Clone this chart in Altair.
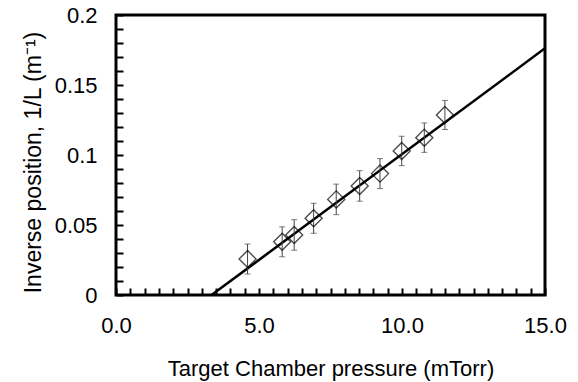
import altair as alt
import pandas as pd

# Data
pressure = [4.6, 5.81, 6.23, 6.91, 7.70, 8.52, 9.23, 9.99, 10.78, 11.50]
inv_pos = [0.0257, 0.0380, 0.0429, 0.0548, 0.0683, 0.0779, 0.0867, 0.1029, 0.1124, 0.1286]
err = [0.0107, 0.0107, 0.0109, 0.0107, 0.0109, 0.0109, 0.0107, 0.0105, 0.0105, 0.0104]

fit_x = [3.34, 15.0]
fit_y = [0.0, 0.1762]

x_ticks = [i * 0.5 for i in range(31)]
y_ticks = [round(i * 0.01, 2) for i in range(21)]

df = pd.DataFrame({"p": pressure, "y": inv_pos, "err": err})
df["lo"] = df["y"] - df["err"]
df["hi"] = df["y"] + df["err"]
fit = pd.DataFrame({"p": fit_x, "y": fit_y})

FONT = "Liberation Sans"
TICK = 7

xscale = alt.Scale(domain=[0, 15], nice=False, zero=False)
yscale = alt.Scale(domain=[0, 0.2], nice=False, zero=False)

xaxis = alt.Axis(
    title="Target Chamber pressure (mTorr)",
    values=x_ticks,
    labelExpr="datum.value % 5 == 0 ? format(datum.value, '.1f') : ''",
    labelOverlap=False,
    labelFlush=False,
    offset=-TICK,
    tickSize=TICK,
    tickWidth=2,
    tickColor="black",
    domain=False,
    grid=False,
    labelPadding=20,
    labelFont=FONT,
    labelFontSize=22,
    labelColor="black",
    titleFont=FONT,
    titleFontSize=22,
    titleFontWeight="normal",
    titleColor="black",
    titlePadding=22,
)
yaxis = alt.Axis(
    title="Inverse position, 1/L (m\u207b\u00b9)",
    values=y_ticks,
    labelExpr="round(datum.value * 100) % 5 == 0 ? format(datum.value, '~g') : ''",
    labelOverlap=False,
    labelFlush=False,
    offset=-TICK,
    tickSize=TICK,
    tickWidth=2,
    tickColor="black",
    domain=False,
    grid=False,
    labelPadding=19,
    labelFont=FONT,
    labelFontSize=22,
    labelColor="black",
    titleFont=FONT,
    titleFontSize=23,
    titleFontWeight="normal",
    titleColor="black",
    titlePadding=9,
    titleY=147,
)

X = alt.X("p:Q", scale=xscale, axis=xaxis)


def Y(field):
    return alt.Y(field, type="quantitative", scale=yscale, axis=yaxis)


base = alt.Chart(df)

line = alt.Chart(fit).mark_line(color="black", strokeWidth=2.5, clip=True).encode(
    x=X,
    y=Y("y"),
)

bars = base.mark_rule(color="#444444", strokeWidth=1).encode(
    x=X,
    y=Y("lo"),
    y2="hi:Q",
)
cap_lo = base.mark_tick(color="#444444", thickness=1, size=6, orient="horizontal").encode(
    x=X,
    y=Y("lo"),
)
cap_hi = base.mark_tick(color="#444444", thickness=1, size=6, orient="horizontal").encode(
    x=X,
    y=Y("hi"),
)
pts = base.mark_point(shape="diamond", filled=False, color="black", size=290, strokeWidth=1.4).encode(
    x=X,
    y=Y("y"),
)

chart = (
    alt.layer(line, bars, cap_lo, cap_hi, pts)
    .properties(
        width=429,
        height=280,
        autosize=alt.AutoSizeParams(type="none"),
        padding={"left": 116, "top": 15, "right": 33, "bottom": 87},
        background="white",
    )
    .configure_view(stroke="black", strokeWidth=3)
)

chart.save("out.html", embed_options={"renderer": "svg", "actions": False})
